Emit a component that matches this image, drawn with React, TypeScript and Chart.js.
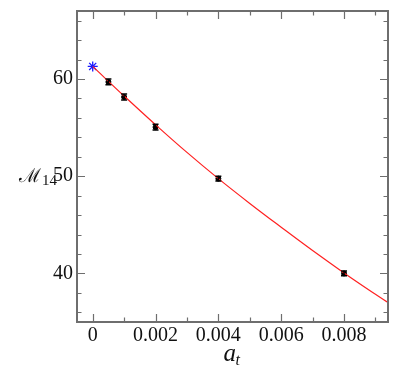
import React, { useEffect, useRef } from "react";
import { Chart, registerables } from "chart.js";

Chart.register(...registerables);

// Data
const pointX = [0.0005, 0.001, 0.002, 0.004, 0.008];
const pointY = [59.7, 58.15, 55.05, 49.75, 40.0];
const pointErr = [0.3, 0.3, 0.3, 0.25, 0.25];

const extrapX = [0];
const extrapY = [61.3];

const fitX = [0, 0.001, 0.002, 0.003, 0.004, 0.005, 0.006, 0.007, 0.008, 0.009, 0.0094];
const fitY = [61.3, 58.25, 55.3, 52.45, 49.75, 47.2, 44.75, 42.35, 40.05, 37.85, 37.0];

const xTicks = [0, 0.002, 0.004, 0.006, 0.008];
const xMinorTicks = [0.001, 0.003, 0.005, 0.007, 0.009];
const yTicks = [40, 50, 60];
const yMinorTicks = [36, 38, 42, 44, 46, 48, 52, 54, 56, 58, 62, 64, 66];

const X_MIN = -0.0005;
const X_MAX = 0.0094;
const Y_MIN = 35;
const Y_MAX = 67;

const FRAME = "#6e6e6e";

const framePlugin = {
  id: "frameTicks",
  afterDatasetsDraw(chart: any) {
    const { ctx, chartArea: a, scales } = chart;
    const xs = scales.x;
    const ys = scales.y;
    ctx.save();
    // error bars
    ctx.strokeStyle = "#000";
    ctx.lineWidth = 1.5;
    pointX.forEach((xv, i) => {
      const px = xs.getPixelForValue(xv);
      const top = ys.getPixelForValue(pointY[i] + pointErr[i]);
      const bot = ys.getPixelForValue(pointY[i] - pointErr[i]);
      ctx.beginPath();
      ctx.moveTo(px, top);
      ctx.lineTo(px, bot);
      ctx.moveTo(px - 3, top);
      ctx.lineTo(px + 3, top);
      ctx.moveTo(px - 3, bot);
      ctx.lineTo(px + 3, bot);
      ctx.stroke();
    });
    // frame
    ctx.strokeStyle = FRAME;
    ctx.lineWidth = 2;
    ctx.strokeRect(a.left, a.top, a.right - a.left, a.bottom - a.top);
    ctx.lineWidth = 1.2;
    const major = 8;
    const minor = 4.5;
    const drawX = (v: number, len: number) => {
      const px = Math.round(xs.getPixelForValue(v)) + 0.5;
      ctx.beginPath();
      ctx.moveTo(px, a.bottom);
      ctx.lineTo(px, a.bottom - len);
      ctx.moveTo(px, a.top);
      ctx.lineTo(px, a.top + len);
      ctx.stroke();
    };
    const drawY = (v: number, len: number) => {
      const py = Math.round(ys.getPixelForValue(v)) + 0.5;
      ctx.beginPath();
      ctx.moveTo(a.left, py);
      ctx.lineTo(a.left + len, py);
      ctx.moveTo(a.right, py);
      ctx.lineTo(a.right - len, py);
      ctx.stroke();
    };
    xTicks.forEach((v) => drawX(v, major));
    xMinorTicks.forEach((v) => drawX(v, minor));
    yTicks.forEach((v) => drawY(v, major));
    yMinorTicks.forEach((v) => drawY(v, minor));

    // axis titles
    ctx.fillStyle = "#111";
    ctx.textBaseline = "alphabetic";
    ctx.textAlign = "left";
    ctx.font = "italic 25px 'Liberation Serif', 'DejaVu Serif', serif";
    const axCenter = (a.left + a.right) / 2;
    ctx.fillText("a", axCenter - 9, 361);
    ctx.font = "italic 16px 'Liberation Serif', 'DejaVu Serif', serif";
    ctx.fillText("t", axCenter + 3, 365);

    const yc = ys.getPixelForValue(50);
    ctx.font = "19px 'DejaVu Serif', serif";
    const m = "\u2133";
    ctx.fillText(m, 19, yc + 6);
    const w = ctx.measureText(m).width;
    ctx.font = "15px 'Liberation Serif', 'DejaVu Serif', serif";
    ctx.fillText("14", 19 + w + 1, yc + 9);
    ctx.restore();
  },
};

export default function App() {
  const ref = useRef<HTMLCanvasElement | null>(null);
  useEffect(() => {
    document.body.style.margin = "0";
    const canvas = ref.current!;
    const tickFont = { family: "'Liberation Serif', 'Times New Roman', serif", size: 20 };
    const chart = new Chart(canvas, {
      type: "scatter",
      data: {
        datasets: [
          {
            type: "line",
            label: "fit",
            data: fitX.map((x, i) => ({ x, y: fitY[i] })),
            borderColor: "#ff2020",
            borderWidth: 1.2,
            pointRadius: 0,
            tension: 0.4,
            fill: false,
          } as any,
          {
            label: "data",
            data: pointX.map((x, i) => ({ x, y: pointY[i] })),
            backgroundColor: "#000",
            borderColor: "#000",
            pointRadius: 2.5,
            pointStyle: "circle",
          },
          {
            label: "extrapolated",
            data: extrapX.map((x, i) => ({ x, y: extrapY[i] })),
            borderColor: "#1a1aff",
            backgroundColor: "#1a1aff",
            borderWidth: 1.3,
            pointRadius: 5,
            pointStyle: "star",
          },
        ],
      },
      options: {
        animation: false,
        responsive: false,
        maintainAspectRatio: false,
        layout: { padding: { top: 11, right: 11, left: 0, bottom: 0 } },
        plugins: { legend: { display: false }, tooltip: { enabled: false } },
        scales: {
          x: {
            type: "linear",
            min: X_MIN,
            max: X_MAX,
            afterBuildTicks: (s: any) => {
              s.ticks = xTicks.map((v) => ({ value: v }));
            },
            afterFit: (s: any) => {
              s.height = 47;
              s.paddingLeft = 0;
              s.paddingRight = 0;
            },
            ticks: {
              font: tickFont,
              color: "#111",
              padding: 2,
              maxRotation: 0,
              autoSkip: false,
              callback: (v: any) => String(v),
            },
            grid: { display: false, drawTicks: false },
            border: { display: false },
          },
          y: {
            type: "linear",
            min: Y_MIN,
            max: Y_MAX,
            afterBuildTicks: (s: any) => {
              s.ticks = yTicks.map((v) => ({ value: v }));
            },
            afterFit: (s: any) => {
              s.width = 77;
              s.paddingTop = 0;
              s.paddingBottom = 0;
            },
            ticks: {
              font: tickFont,
              color: "#111",
              padding: 4,
              autoSkip: false,
              callback: (v: any) => String(v),
            },
            grid: { display: false, drawTicks: false },
            border: { display: false },
          },
        },
      },
      plugins: [framePlugin],
    } as any);
    return () => chart.destroy();
  }, []);
  return (
    <div style={{ position: "fixed", left: 0, top: 0, width: 399, height: 369 }}>
      <canvas ref={ref} width={399} height={369} style={{ width: 399, height: 369 }} />
    </div>
  );
}
